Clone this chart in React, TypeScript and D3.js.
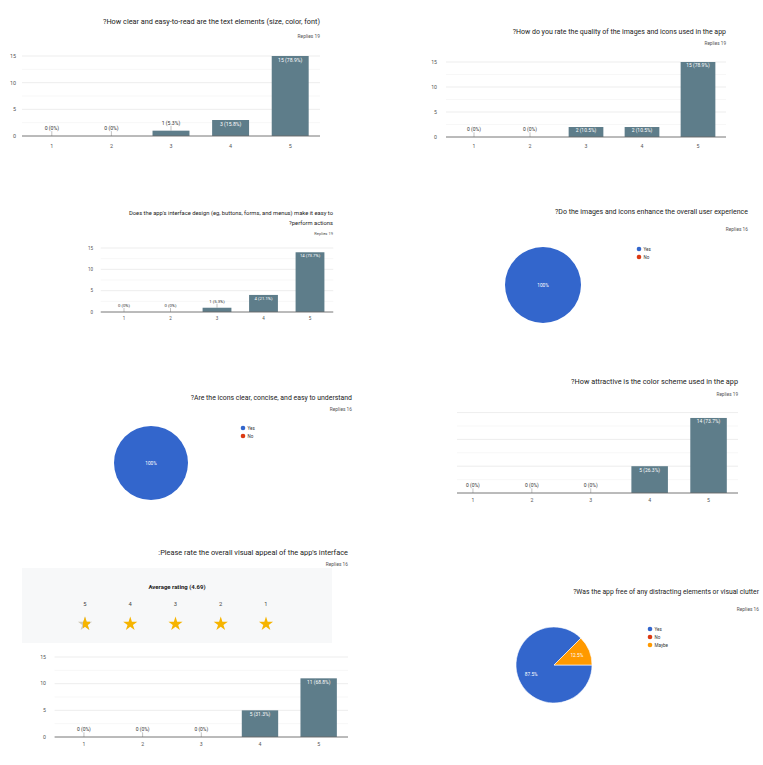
import React from "react";
import * as d3 from "d3";

// ---------- data ----------
const categories = ["1", "2", "3", "4", "5"];
const yTicks = [0, 5, 10, 15];
const yMinorTicks = [2.5, 7.5, 12.5];

const textClarity = [0, 0, 1, 3, 15];
const imageQuality = [0, 0, 2, 2, 15];
const easeOfUse = [0, 0, 1, 4, 14];
const colorScheme = [0, 0, 0, 5, 14];
const visualAppeal = [0, 0, 0, 5, 11];

const yesNoLabels = ["Yes", "No"];
const imagesEnhance = [16, 0];
const iconsClear = [16, 0];
const clutterLabels = ["Yes", "No", "Maybe"];
const clutterFree = [14, 0, 2];

const ratingStars = [5, 4, 3, 2, 1];
const averageRating = 4.69;

const titles = {
  textClarity: ["?How clear and easy-to-read are the text elements (size, color, font)"],
  imageQuality: ["?How do you rate the quality of the images and icons used in the app"],
  easeOfUse: [
    "Does the app's interface design (eg, buttons, forms, and menus) make it easy to",
    "?perform actions",
  ],
  imagesEnhance: ["?Do the images and icons enhance the overall user experience"],
  iconsClear: ["?Are the icons clear, concise, and easy to understand"],
  colorScheme: ["?How attractive is the color scheme used in the app"],
  visualAppeal: [":Please rate the overall visual appeal of the app's interface"],
  clutterFree: ["?Was the app free of any distracting elements or visual clutter"],
};

// ---------- styles ----------
const FONT = "Roboto, 'Noto Sans', Arial, sans-serif";
const BAR = "#5e7d8a";
const PIE_COLORS = ["#3366cc", "#dc3912", "#ff9900"];
const TITLE_C = "#222";
const TEXT_C = "#555";

function pct(v: number, total: number) {
  if (v === 0) return "0%";
  const p = Math.round((v / total) * 1000) / 10;
  return (Number.isInteger(p) ? String(p) : p.toFixed(1)) + "%";
}

type BarProps = {
  values: number[];
  title: string[];
  titleX: number;
  titleY: number;
  titleSize: number;
  lineGap: number;
  repliesY?: number;
  xRange: [number, number];
  clipLeft?: number;
  baseline: number;
  top: number;
  yLabelX?: number;
  tickY: number;
  fs: number;
};

function BarPanel(p: BarProps) {
  const total = d3.sum(p.values);
  const x = d3.scaleBand<string>().domain(categories).range(p.xRange).paddingInner(0.38).paddingOuter(0.19);
  const y = d3.scaleLinear().domain([0, 15]).range([p.baseline, p.top]);
  const gridL = p.clipLeft ?? p.xRange[0];
  const gridR = p.xRange[1];
  return (
    <g>
      {p.title.map((t, i) => (
        <text key={i} x={p.titleX} y={p.titleY + i * p.lineGap} textAnchor="end" fontSize={p.titleSize} fill={TITLE_C} fontFamily={FONT}>
          {t}
        </text>
      ))}
      {p.repliesY !== undefined && (
        <text x={p.titleX} y={p.repliesY} textAnchor="end" fontSize={p.fs * 0.9} fill={TEXT_C} fontFamily={FONT}>
          {"Replies " + total}
        </text>
      )}
      {yMinorTicks.map((t) => (
        <line key={"m" + t} x1={gridL} x2={gridR} y1={y(t)} y2={y(t)} stroke="#f3f3f3" strokeWidth={0.7} />
      ))}
      {yTicks.map((t) => (
        <g key={t}>
          {t > 0 && <line x1={gridL} x2={gridR} y1={y(t)} y2={y(t)} stroke="#e8e8e8" strokeWidth={0.8} />}
          {p.yLabelX !== undefined && (
            <text x={p.yLabelX} y={y(t) + p.fs * 0.35} textAnchor="end" fontSize={p.fs} fill={TEXT_C} fontFamily={FONT}>
              {t}
            </text>
          )}
        </g>
      ))}
      {p.values.map((v, i) => {
        const c = categories[i];
        const bx = x(c)!;
        const bw = x.bandwidth();
        const cx = bx + bw / 2;
        const yt = y(v);
        const h = p.baseline - yt;
        const label = `${v} (${pct(v, total)})`;
        const inside = h > p.fs * 1.6;
        return (
          <g key={c}>
            {v > 0 && <rect x={bx} y={yt} width={bw} height={h} fill={BAR} />}
            {inside ? (
              <text x={cx} y={yt + p.fs * 1.05} textAnchor="middle" fontSize={p.fs * 0.95} fill="#fff" fontFamily={FONT}>
                {label}
              </text>
            ) : (
              <g>
                <line x1={cx} x2={cx} y1={yt - p.fs * 0.9} y2={yt} stroke="#999" strokeWidth={0.6} />
                <text x={cx} y={yt - p.fs * 1.1} textAnchor="middle" fontSize={p.fs * 0.95} fill="#333" fontFamily={FONT}>
                  {label}
                </text>
              </g>
            )}
            <text x={cx} y={p.tickY} textAnchor="middle" fontSize={p.fs} fill={TEXT_C} fontFamily={FONT}>
              {c}
            </text>
          </g>
        );
      })}
      <line x1={gridL} x2={gridR} y1={p.baseline} y2={p.baseline} stroke="#666" strokeWidth={0.9} />
    </g>
  );
}

type PieProps = {
  values: number[];
  labels: string[];
  title: string[];
  titleX: number;
  titleY: number;
  titleSize: number;
  repliesY: number;
  cx: number;
  cy: number;
  r: number;
  legendX: number;
  legendY: number;
  legendStep: number;
  fs: number;
};

function PiePanel(p: PieProps) {
  const total = d3.sum(p.values);
  const pie = d3
    .pie<number>()
    .sort(null)
    .value((d) => d)
    .startAngle(Math.PI / 2)
    .endAngle(Math.PI / 2 + 2 * Math.PI);
  const arcs = pie(p.values);
  const arc = d3.arc<d3.PieArcDatum<number>>().innerRadius(0).outerRadius(p.r);
  const labelArc = d3.arc<d3.PieArcDatum<number>>().innerRadius(p.r * 0.65).outerRadius(p.r * 0.65);
  return (
    <g>
      {p.title.map((t, i) => (
        <text key={i} x={p.titleX} y={p.titleY} textAnchor="end" fontSize={p.titleSize} fill={TITLE_C} fontFamily={FONT}>
          {t}
        </text>
      ))}
      <text x={p.titleX} y={p.repliesY} textAnchor="end" fontSize={p.fs} fill={TEXT_C} fontFamily={FONT}>
        {"Replies " + total}
      </text>
      <g transform={`translate(${p.cx},${p.cy})`}>
        {arcs.map((a, i) =>
          a.value > 0 ? (
            a.value === total ? (
              <circle key={i} r={p.r} fill={PIE_COLORS[i]} />
            ) : (
              <path key={i} d={arc(a)!} fill={PIE_COLORS[i]} stroke="#fff" strokeWidth={0.6} />
            )
          ) : null
        )}
        {arcs.map((a, i) => {
          if (a.value === 0) return null;
          const [lx, ly] = a.value === total ? [0, 0] : labelArc.centroid(a);
          return (
            <text key={"l" + i} x={lx} y={ly + p.fs * 0.35} textAnchor="middle" fontSize={p.fs} fill="#fff" fontFamily={FONT}>
              {pct(a.value, total)}
            </text>
          );
        })}
      </g>
      {p.labels.map((l, i) => (
        <g key={l}>
          <circle cx={p.legendX} cy={p.legendY + i * p.legendStep} r={2.3} fill={PIE_COLORS[i]} />
          <text x={p.legendX + 4.5} y={p.legendY + i * p.legendStep + 1.6} fontSize={p.fs * 0.95} fill="#333" fontFamily={FONT}>
            {l}
          </text>
        </g>
      ))}
    </g>
  );
}

function RatingBox() {
  const sx = d3.scalePoint<number>().domain(ratingStars).range([85, 266]);
  const star = d3.symbol().type(d3.symbolStar).size(62)()!;
  const starW = 10;
  return (
    <g>
      <rect x={22} y={568} width={310} height={75} fill="#f7f8f9" />
      <text x={177} y={589} textAnchor="middle" fontSize={6} fontWeight="bold" fill="#222" fontFamily={FONT}>
        {`Average rating (${averageRating})`}
      </text>
      {ratingStars.map((s) => {
        const filled = Math.min(1, Math.max(0, averageRating - (s - 1)));
        const cx = sx(s)!;
        const clipId = "starclip" + s;
        return (
          <g key={s}>
            <text x={cx} y={606} textAnchor="middle" fontSize={5.8} fill="#444" fontFamily={FONT}>
              {s}
            </text>
            {filled >= 1 ? (
              <path d={star} transform={`translate(${cx},624)`} fill="#f6b400" />
            ) : (
              <g>
                <clipPath id={clipId}>
                  <rect x={cx + starW / 2 - starW * filled} y={612} width={starW * filled} height={24} />
                </clipPath>
                <path d={star} transform={`translate(${cx},624)`} fill="#cfc8b4" />
                <g clipPath={`url(#${clipId})`}>
                  <path d={star} transform={`translate(${cx},624)`} fill="#f6b400" />
                </g>
              </g>
            )}
          </g>
        );
      })}
    </g>
  );
}

export default function App() {
  return (
    <svg width={763} height={765} style={{ position: "absolute", left: 0, top: 0, background: "#fff" }}>
      <rect width={763} height={765} fill="#fff" />
      <BarPanel
        values={textClarity}
        title={titles.textClarity}
        titleX={320}
        titleY={24}
        titleSize={7.3}
        lineGap={9}
        repliesY={38}
        xRange={[22, 320]}
        baseline={136}
        top={56}
        yLabelX={16}
        tickY={148}
        fs={5.4}
      />
      <BarPanel
        values={imageQuality}
        title={titles.imageQuality}
        titleX={726}
        titleY={34}
        titleSize={7}
        lineGap={9}
        repliesY={45}
        xRange={[446, 726]}
        baseline={137}
        top={62}
        yLabelX={437}
        tickY={148}
        fs={5.2}
      />
      <BarPanel
        values={easeOfUse}
        title={titles.easeOfUse}
        titleX={333}
        titleY={215}
        titleSize={5.8}
        lineGap={9.5}
        repliesY={235}
        xRange={[100.75, 333.25]}
        baseline={312}
        top={248}
        yLabelX={93}
        tickY={320}
        fs={4.5}
      />
      <PiePanel
        values={imagesEnhance}
        labels={yesNoLabels}
        title={titles.imagesEnhance}
        titleX={748}
        titleY={214}
        titleSize={7}
        repliesY={231}
        cx={543}
        cy={285}
        r={38}
        legendX={639}
        legendY={249}
        legendStep={8}
        fs={4.8}
      />
      <PiePanel
        values={iconsClear}
        labels={yesNoLabels}
        title={titles.iconsClear}
        titleX={352}
        titleY={400}
        titleSize={6.9}
        repliesY={411}
        cx={151}
        cy={463}
        r={37}
        legendX={243}
        legendY={428}
        legendStep={8}
        fs={4.8}
      />
      <BarPanel
        values={colorScheme}
        title={titles.colorScheme}
        titleX={738}
        titleY={384}
        titleSize={7.3}
        lineGap={9}
        repliesY={396}
        xRange={[443.5, 738]}
        clipLeft={457}
        baseline={493}
        top={412.6}
        tickY={502}
        fs={5.2}
      />
      <text x={348} y={555} textAnchor="end" fontSize={7.4} fill={TITLE_C} fontFamily={FONT}>
        {titles.visualAppeal[0]}
      </text>
      <text x={348} y={566} textAnchor="end" fontSize={4.8} fill={TEXT_C} fontFamily={FONT}>
        {"Replies " + d3.sum(visualAppeal)}
      </text>
      <RatingBox />
      <BarPanel
        values={visualAppeal}
        title={[]}
        titleX={348}
        titleY={555}
        titleSize={6.2}
        lineGap={9}
        xRange={[54.6, 348]}
        baseline={737}
        top={657}
        yLabelX={46}
        tickY={746}
        fs={5.2}
      />
      <PiePanel
        values={clutterFree}
        labels={clutterLabels}
        title={titles.clutterFree}
        titleX={759}
        titleY={594}
        titleSize={6.8}
        repliesY={611}
        cx={554}
        cy={665}
        r={38}
        legendX={650}
        legendY={629}
        legendStep={8}
        fs={4.8}
      />
    </svg>
  );
}
